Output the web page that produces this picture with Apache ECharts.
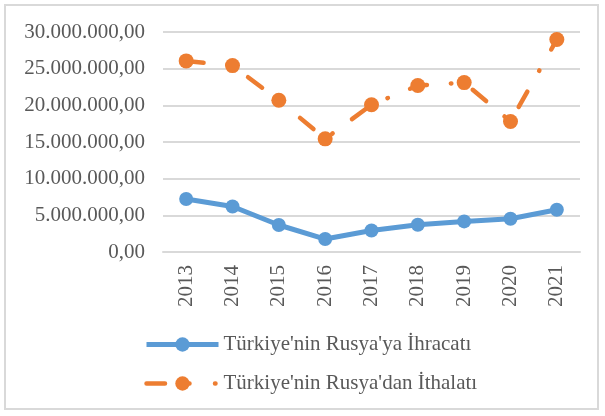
<!DOCTYPE html>
<html>
<head>
<meta charset="utf-8">
<script src="https://cdn.jsdelivr.net/npm/echarts@6/dist/echarts.min.js"></script>
<style>
html,body{margin:0;padding:0;background:#fff;}
#frame{position:absolute;left:4px;top:4px;width:595px;height:406px;border:2px solid #D9D9D9;box-sizing:border-box;}
#chart{position:absolute;left:0;top:0;width:605px;height:416px;}
</style>
</head>
<body>
<div id="frame"></div>
<div id="chart"></div>
<script>
const years = ['2013','2014','2015','2016','2017','2018','2019','2020','2021'];
const exportsToRussia = [7220000, 6210000, 3680000, 1770000, 2940000, 3720000, 4170000, 4540000, 5760000];
const importsFromRussia = [26060000, 25420000, 20700000, 15430000, 20070000, 22700000, 23100000, 17800000, 28970000];
const seriesNames = ["Türkiye'nin Rusya'ya İhracatı", "Türkiye'nin Rusya'dan İthalatı"];
const yTickLabels = ['0,00','5.000.000,00','10.000.000,00','15.000.000,00','20.000.000,00','25.000.000,00','30.000.000,00'];

const FONT = '"Liberation Serif", "Times New Roman", serif';
const chart = echarts.init(document.getElementById('chart'), null, {renderer:'canvas'});
chart.setOption({
  animation:false,
  backgroundColor:'transparent',
  grid:{left:163, right:25, top:32, bottom:164, containLabel:false},
  xAxis:{
    type:'category', data:years, boundaryGap:true,
    axisLine:{show:true, lineStyle:{color:'#D9D9D9', width:2}},
    axisTick:{show:false},
    axisLabel:{rotate:90, margin:13, color:'#595959', fontFamily:FONT, fontSize:21}
  },
  yAxis:{
    type:'value', min:0, max:30000000, interval:5000000,
    axisLine:{show:false}, axisTick:{show:false},
    splitLine:{lineStyle:{color:'#D9D9D9', width:2}},
    axisLabel:{margin:18, color:'#595959', fontFamily:FONT, fontSize:21,
      formatter:function(v){ return yTickLabels[Math.round(v/5000000)]; }}
  },
  legend:{
    orient:'vertical', left:144, top:334, padding:0, itemWidth:72, itemHeight:18, itemGap:18,
    textStyle:{color:'#595959', fontFamily:FONT, fontSize:21, padding:[0,0,0,0]},
    data:[
      {name:seriesNames[0], lineStyle:{width:5}},
      {name:seriesNames[1], lineStyle:{width:4.5, type:[18.5,24,0.5,25.5,0.5,100], cap:'round'}}
    ]
  },
  series:[
    {name:seriesNames[0], type:'line', data:exportsToRussia,
     symbol:'circle', symbolSize:14,
     itemStyle:{color:'#5B9BD5'},
     lineStyle:{color:'#5B9BD5', width:5}},
    {name:seriesNames[1], type:'line', data:importsFromRussia,
     symbol:'circle', symbolSize:15,
     itemStyle:{color:'#ED7D31'},
     lineStyle:{color:'#ED7D31', width:4.5, type:[17.5,24,0.5,24], dashOffset:0, cap:'round'}}
  ]
});
</script>
</body>
</html>
